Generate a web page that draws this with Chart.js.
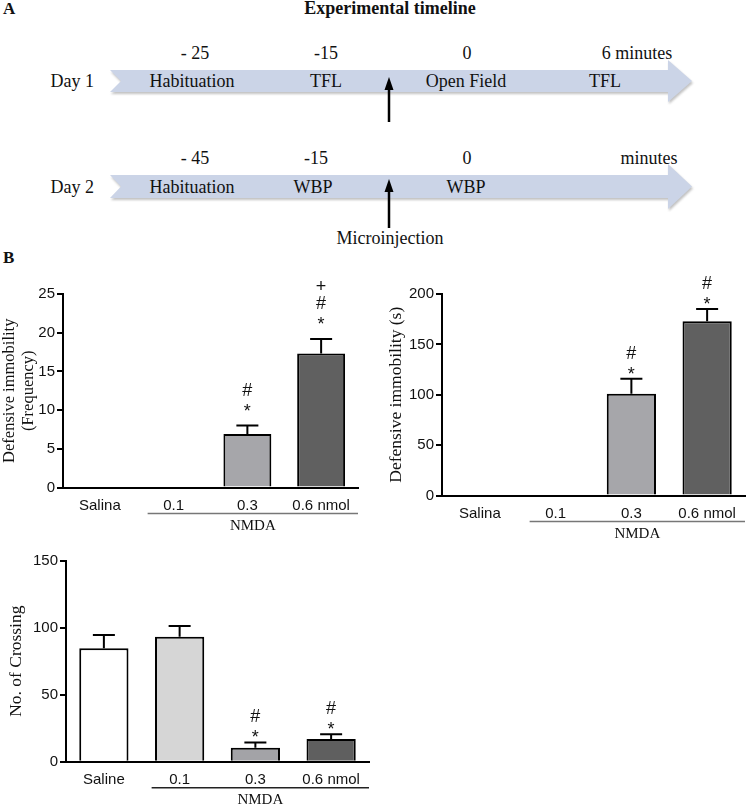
<!DOCTYPE html>
<html>
<head>
<meta charset="utf-8">
<script src="https://cdn.jsdelivr.net/npm/chart.js@4"></script>
<style>
body { margin: 0; background: #fff; }
#page { position: relative; width: 749px; height: 804px; overflow: hidden; }
canvas { position: absolute; }
svg text { font-family: "Liberation Serif", "Times New Roman", serif; fill: #111; }
</style>
</head>
<body>
<div id="page">
<svg width="749" height="270" style="position:absolute;left:0;top:0">
  <defs>
    <filter id="blur"><feGaussianBlur stdDeviation="1"/></filter>
  </defs>
  <text x="3" y="14" font-size="17" font-weight="bold">A</text>
  <text x="390" y="14" font-size="18" font-weight="bold" text-anchor="middle">Experimental timeline</text>

  <polygon points="111,72 669,72 669,62 693,83 669,104 669,94 111,94 122,83" fill="#9a9a9a" opacity="0.6" filter="url(#blur)"/>
  <polygon points="110,70 668,70 668,60 692,81 668,102 668,92 110,92 121,81" fill="#cbd4e7"/>
  <text x="94" y="87" font-size="18" text-anchor="end">Day 1</text>
  <text x="195" y="59" font-size="18" text-anchor="middle">- 25</text>
  <text x="326" y="59" font-size="18" text-anchor="middle">-15</text>
  <text x="467" y="59" font-size="18" text-anchor="middle">0</text>
  <text x="637" y="59" font-size="18" text-anchor="middle">6 minutes</text>
  <text x="192" y="87" font-size="18" text-anchor="middle">Habituation</text>
  <text x="326" y="87" font-size="18" text-anchor="middle">TFL</text>
  <text x="466" y="87" font-size="18" text-anchor="middle">Open Field</text>
  <text x="605" y="87" font-size="18" text-anchor="middle">TFL</text>
  <line x1="389" y1="122" x2="389" y2="86" stroke="#000" stroke-width="2.5"/>
  <polygon points="389,77 384.5,90 393.5,90" fill="#000"/>

  <polygon points="111,177 669,177 669,166 693,188.5 669,211 669,200 111,200 122,188.5" fill="#9a9a9a" opacity="0.6" filter="url(#blur)"/>
  <polygon points="110,175 668,175 668,164 692,186.5 668,209 668,198 110,198 121,186.5" fill="#cbd4e7"/>
  <text x="94" y="193" font-size="18" text-anchor="end">Day 2</text>
  <text x="195" y="164" font-size="18" text-anchor="middle">- 45</text>
  <text x="316" y="164" font-size="18" text-anchor="middle">-15</text>
  <text x="467" y="164" font-size="18" text-anchor="middle">0</text>
  <text x="649" y="164" font-size="18" text-anchor="middle">minutes</text>
  <text x="192" y="193" font-size="18" text-anchor="middle">Habituation</text>
  <text x="313" y="193" font-size="18" text-anchor="middle">WBP</text>
  <text x="466" y="193" font-size="18" text-anchor="middle">WBP</text>
  <line x1="389" y1="228" x2="389" y2="188" stroke="#000" stroke-width="2.5"/>
  <polygon points="389,179 384.5,192 393.5,192" fill="#000"/>
  <text x="390" y="244" font-size="18" text-anchor="middle">Microinjection</text>

  <text x="3" y="263" font-size="17" font-weight="bold">B</text>
</svg>
<canvas id="c1" width="370" height="275" style="left:0;top:270px"></canvas>
<canvas id="c2" width="379" height="275" style="left:370px;top:270px"></canvas>
<canvas id="c3" width="380" height="264" style="left:0;top:540px"></canvas>
</div>
<script>
// groups
const groupsTop = ['Salina', '0.1', '0.3', '0.6 nmol'];
const groupsBottom = ['Saline', '0.1', '0.3', '0.6 nmol'];

// defensive immobility, frequency
const freqMean = [0, 0, 6.9, 17.3];
const freqSem = [0, 0, 1.1, 1.9];
const freqMarks = [[], [], ['*', '#'], ['*', '#', '+']];
const freqTicks = [0, 5, 10, 15, 20, 25];

// defensive immobility, seconds
const timeMean = [0, 0, 101, 173];
const timeSem = [0, 0, 15, 12];
const timeMarks = [[], [], ['*', '#'], ['*', '#']];
const timeTicks = [0, 50, 100, 150, 200];

// crossings
const crossMean = [84.6, 93.3, 10.4, 16.9];
const crossSem = [10, 8, 4, 3.5];
const crossMarks = [[], [], ['*', '#'], ['*', '#']];
const crossTicks = [0, 50, 100, 150];

const sans = '"Liberation Sans", Arial, sans-serif';
const serif = '"Liberation Serif", "Times New Roman", serif';

const errorBars = {
    id: 'errorBars',
    afterDatasetsDraw(chart, args, opts) {
        const ctx = chart.ctx;
        const y = chart.scales.y;
        const meta = chart.getDatasetMeta(0);
        ctx.save();
        ctx.strokeStyle = '#000';
        ctx.lineWidth = 2;
        meta.data.forEach((bar, i) => {
            let top = bar.y;
            if (opts.sem[i] > 0) {
                top = y.getPixelForValue(opts.mean[i] + opts.sem[i]);
                ctx.beginPath();
                ctx.moveTo(bar.x, bar.y);
                ctx.lineTo(bar.x, top);
                ctx.moveTo(bar.x - 11, top);
                ctx.lineTo(bar.x + 11, top);
                ctx.stroke();
            }
            // significance marks stacked above the error bar
            ctx.fillStyle = '#111';
            ctx.font = '18px ' + sans;
            ctx.textAlign = 'center';
            ctx.textBaseline = 'alphabetic';
            opts.marks[i].forEach((m, k) => {
                const c = top - opts.gap - k * opts.step;
                const shift = m === '*' ? 0.57 : 0.35;
                ctx.fillText(m, bar.x, c + shift * 18);
            });
        });
        ctx.restore();
    }
};

const nmdaBracket = {
    id: 'nmdaBracket',
    afterDraw(chart, args, opts) {
        const ctx = chart.ctx;
        const x = chart.scales.x;
        const area = chart.chartArea;
        const x1 = x.getPixelForValue(1) - opts.inset;
        const x2 = area.right;
        ctx.save();
        ctx.strokeStyle = opts.color;
        ctx.lineWidth = 1.5;
        ctx.beginPath();
        ctx.moveTo(x1, area.bottom + 26);
        ctx.lineTo(x2, area.bottom + 26);
        ctx.stroke();
        ctx.fillStyle = '#111';
        ctx.font = '15px ' + serif;
        ctx.textAlign = 'center';
        ctx.textBaseline = 'alphabetic';
        ctx.fillText('NMDA', (x1 + x2) / 2, area.bottom + 37 + 5);
        ctx.restore();
    }
};

function makeChart(id, cfg) {
    return new Chart(document.getElementById(id), {
        type: 'bar',
        data: {
            labels: cfg.labels,
            datasets: [{
                data: cfg.mean,
                backgroundColor: cfg.colors,
                borderColor: '#000',
                borderWidth: c => (c.raw === 0 ? 0 : 2),
                barPercentage: 0.65,
                categoryPercentage: 1
            }]
        },
        options: {
            responsive: false,
            animation: false,
            devicePixelRatio: 1,
            layout: { padding: { left: 0, top: cfg.padTop, right: cfg.padRight, bottom: 0 } },
            plugins: {
                legend: { display: false },
                tooltip: { enabled: false },
                errorBars: { mean: cfg.mean, sem: cfg.sem, marks: cfg.marks, gap: cfg.gap, step: cfg.step },
                nmdaBracket: { inset: cfg.inset, color: cfg.lineColor }
            },
            scales: {
                x: {
                    grid: { display: false, drawTicks: false },
                    border: { display: true, color: '#000', width: 2 },
                    ticks: { color: '#111', font: { family: sans, size: 15 }, padding: 9, autoSkip: false, maxRotation: 0 },
                    afterFit: s => { s.height = cfg.xHeight; }
                },
                y: {
                    min: cfg.ticks[0],
                    max: cfg.ticks[cfg.ticks.length - 1],
                    afterBuildTicks: s => { s.ticks = cfg.ticks.map(v => ({ value: v })); },
                    grid: { drawOnChartArea: false, color: '#000', lineWidth: 2, tickLength: 6 },
                    border: { display: true, color: '#000', width: 2 },
                    ticks: { color: '#111', font: { family: sans, size: 15 }, padding: 2 },
                    title: {
                        display: true,
                        text: cfg.title,
                        color: '#111',
                        font: { family: serif, size: cfg.titleSize, lineHeight: 1.15 },
                        padding: { top: cfg.titlePad, bottom: 0 }
                    },
                    afterFit: s => { s.width = cfg.yWidth; }
                }
            }
        },
        plugins: [errorBars, nmdaBracket]
    });
}

makeChart('c1', {
    labels: groupsTop, mean: freqMean, sem: freqSem, marks: freqMarks, ticks: freqTicks,
    colors: ['#ffffff', '#d6d6d6', '#a6a6aa', '#606060'],
    title: ['Defensive immobility', '(Frequency)'], titleSize: 16.5, titlePad: 0.5,
    yWidth: 63, xHeight: 57.5, padTop: 24, padRight: 12, gap: 19, step: 17,
    inset: 26, lineColor: '#777'
});

makeChart('c2', {
    labels: groupsTop, mean: timeMean, sem: timeSem, marks: timeMarks, ticks: timeTicks,
    colors: ['#ffffff', '#d6d6d6', '#a6a6aa', '#606060'],
    title: 'Defensive immobility (s)', titleSize: 17.5, titlePad: 16,
    yWidth: 72, xHeight: 49.5, padTop: 24, padRight: 4, gap: 9, step: 17,
    inset: 26, lineColor: '#777'
});

makeChart('c3', {
    labels: groupsBottom, mean: crossMean, sem: crossSem, marks: crossMarks, ticks: crossTicks,
    colors: ['#ffffff', '#d6d6d6', '#a3a3a7', '#5f5f5f'],
    title: 'No. of Crossing', titleSize: 17.5, titlePad: 6,
    yWidth: 66, xHeight: 42.3, padTop: 20.7, padRight: 11, gap: 10, step: 16.5,
    inset: 28, lineColor: '#222'
});
</script>
</body>
</html>
